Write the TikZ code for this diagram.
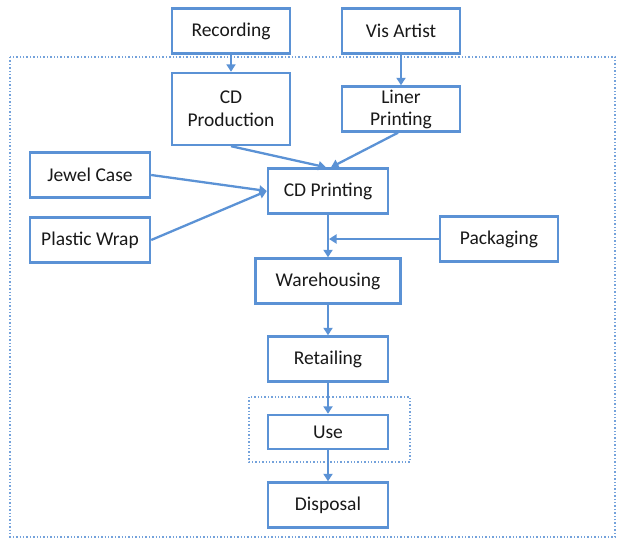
\documentclass[tikz,border=0pt]{standalone}
\usepackage{fontspec}
\setmainfont{Carlito}
\usetikzlibrary{arrows.meta}
\definecolor{boxblue}{RGB}{91,146,213}
\definecolor{textgray}{RGB}{25,25,25}

\begin{document}
\begin{tikzpicture}[x=1pt, y=-1pt,
        stage/.style={draw=boxblue, line width=2.4pt, text=textgray, fill=white,
            minimum width=118pt, minimum height=45pt, inner sep=2pt, align=center,
            font=\fontsize{19.5}{23}\selectfont},
        flow/.style={draw=boxblue, line width=2.3pt, -{Triangle[width=9pt,length=7.5pt]}},
        border/.style={draw=boxblue!85, line width=1.4pt, dotted}]
        \useasboundingbox (0,0) rectangle (617,539);

        % System boundary
        \draw[border] (10,57) rectangle (615,537);
        % Use phase boundary
        \draw[border] (249,397) rectangle (410,462);

        % Inputs above the boundary
        \node[stage] (rec) at (231,31) {Recording};
        \node[stage] (vis) at (401,31) {Vis Artist};

        % Production
        \node[stage, minimum height=72pt] (cdprod) at (231,109) {CD\\Production};
        \node[stage] (liner) at (401,109) {Liner\\[-1pt]Printing};
        \node[stage, minimum width=120pt] (jewel) at (90,175) {Jewel Case};
        \node[stage, minimum width=120pt] (wrap) at (90,240) {Plastic Wrap};
        \node[stage, minimum width=120pt] (cdprint) at (328,191) {CD Printing};
        \node[stage] (pack) at (499,239) {Packaging};

        % Distribution and end of life
        \node[stage, minimum width=145pt] (ware) at (328,281) {Warehousing};
        \node[stage, minimum width=120pt] (retail) at (328,359) {Retailing};
        \node[stage, minimum width=120pt, minimum height=34pt] (use) at (328,432) {Use};
        \node[stage, minimum width=120pt] (disp) at (328,505) {Disposal};

        % Flows
        \draw[flow] (rec) -- (cdprod);
        \draw[flow] (vis) -- (liner);
        \draw[flow] (cdprod.south) -- ([xshift=-2pt]cdprint.north);
        \draw[flow] ([xshift=-3pt]liner.south) -- ([xshift=3pt]cdprint.north);
        \draw[flow] (jewel.east) -- (cdprint.west);
        \draw[flow] (wrap.east) -- (cdprint.west);
        \draw[flow] (cdprint) -- (ware);
        \draw[flow] (pack.west) -- ([xshift=1pt]pack.west -| cdprint.south);
        \draw[flow] (ware) -- (retail);
        \draw[flow] (retail) -- (use);
        \draw[flow] (use) -- (disp);

    \end{tikzpicture}
\end{document}
